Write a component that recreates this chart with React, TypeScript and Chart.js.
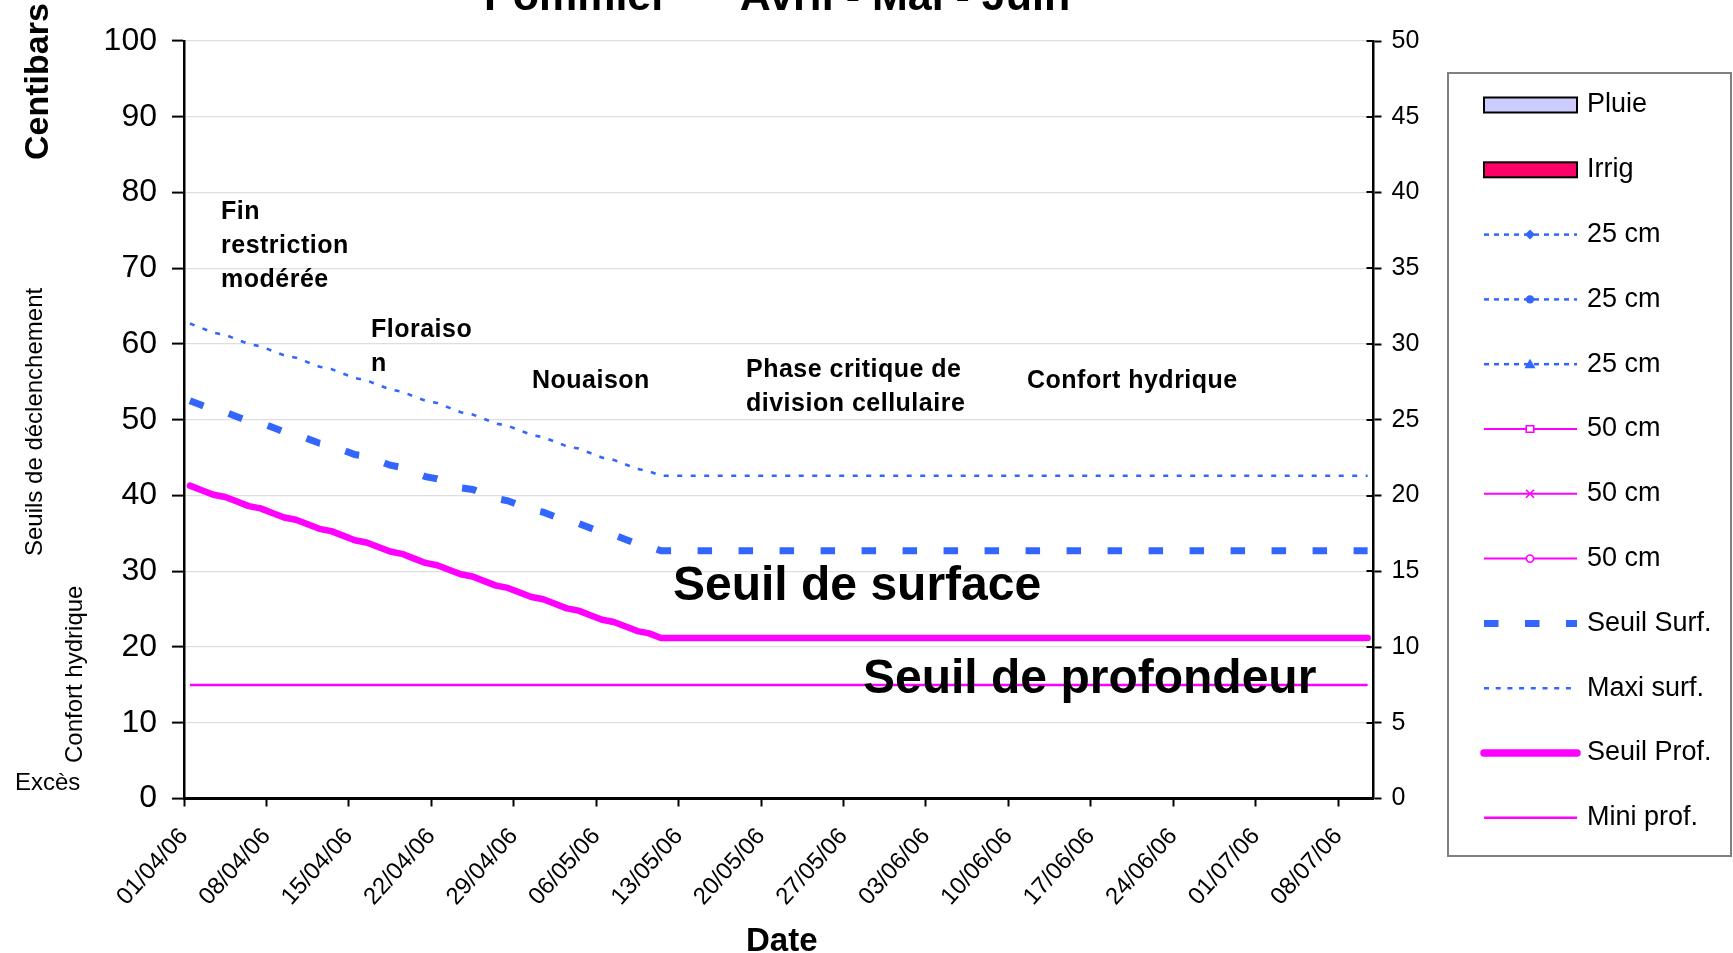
import { useEffect, useRef } from "react";
import { Chart, registerables } from "chart.js";

Chart.register(...registerables);

const FONT = "'Liberation Sans', Arial, Helvetica, sans-serif";
const BLUE = "#3366ff";
const MAGENTA = "#ff00ff";

// 101 daily categories (01/04/06 .. 10/07/06)
const dates = [
  "01/04/06", "02/04/06", "03/04/06", "04/04/06", "05/04/06", "06/04/06", "07/04/06", "08/04/06", "09/04/06", "10/04/06",
  "11/04/06", "12/04/06", "13/04/06", "14/04/06", "15/04/06", "16/04/06", "17/04/06", "18/04/06", "19/04/06", "20/04/06",
  "21/04/06", "22/04/06", "23/04/06", "24/04/06", "25/04/06", "26/04/06", "27/04/06", "28/04/06", "29/04/06", "30/04/06",
  "01/05/06", "02/05/06", "03/05/06", "04/05/06", "05/05/06", "06/05/06", "07/05/06", "08/05/06", "09/05/06", "10/05/06",
  "11/05/06", "12/05/06", "13/05/06", "14/05/06", "15/05/06", "16/05/06", "17/05/06", "18/05/06", "19/05/06", "20/05/06",
  "21/05/06", "22/05/06", "23/05/06", "24/05/06", "25/05/06", "26/05/06", "27/05/06", "28/05/06", "29/05/06", "30/05/06",
  "31/05/06", "01/06/06", "02/06/06", "03/06/06", "04/06/06", "05/06/06", "06/06/06", "07/06/06", "08/06/06", "09/06/06",
  "10/06/06", "11/06/06", "12/06/06", "13/06/06", "14/06/06", "15/06/06", "16/06/06", "17/06/06", "18/06/06", "19/06/06",
  "20/06/06", "21/06/06", "22/06/06", "23/06/06", "24/06/06", "25/06/06", "26/06/06", "27/06/06", "28/06/06", "29/06/06",
  "30/06/06", "01/07/06", "02/07/06", "03/07/06", "04/07/06", "05/07/06", "06/07/06", "07/07/06", "08/07/06", "09/07/06",
  "10/07/06",
];

const xTickLabels = [
  "01/04/06", "08/04/06", "15/04/06", "22/04/06", "29/04/06", "06/05/06", "13/05/06", "20/05/06",
  "27/05/06", "03/06/06", "10/06/06", "17/06/06", "24/06/06", "01/07/06", "08/07/06",
];

const seuilSurf = [
  52.5, 51.9, 51.3, 51.0, 50.4, 49.8, 49.6, 49.0, 48.4, 48.1,
  47.5, 46.9, 46.6, 46.0, 45.4, 45.2, 44.6, 44.0, 43.7, 43.1,
  42.5, 42.2, 41.6, 41.0, 40.8, 40.2, 39.6, 39.3, 38.7, 38.1,
  37.8, 37.2, 36.6, 36.3, 35.7, 35.1, 34.8, 34.2, 33.6, 33.3,
  32.7, 32.7, 32.7, 32.7, 32.7, 32.7, 32.7, 32.7, 32.7, 32.7,
  32.7, 32.7, 32.7, 32.7, 32.7, 32.7, 32.7, 32.7, 32.7, 32.7,
  32.7, 32.7, 32.7, 32.7, 32.7, 32.7, 32.7, 32.7, 32.7, 32.7,
  32.7, 32.7, 32.7, 32.7, 32.7, 32.7, 32.7, 32.7, 32.7, 32.7,
  32.7, 32.7, 32.7, 32.7, 32.7, 32.7, 32.7, 32.7, 32.7, 32.7,
  32.7, 32.7, 32.7, 32.7, 32.7, 32.7, 32.7, 32.7, 32.7, 32.7,
  32.7,
];

const maxiSurf = [
  62.7, 62.1, 61.5, 61.2, 60.6, 60.0, 59.7, 59.1, 58.5, 58.2,
  57.6, 57.0, 56.7, 56.1, 55.5, 55.2, 54.6, 54.0, 53.7, 53.1,
  52.5, 52.2, 51.6, 51.0, 50.7, 50.1, 49.5, 49.2, 48.6, 48.0,
  47.7, 47.1, 46.5, 46.2, 45.6, 45.0, 44.7, 44.1, 43.5, 43.2,
  42.6, 42.6, 42.6, 42.6, 42.6, 42.6, 42.6, 42.6, 42.6, 42.6,
  42.6, 42.6, 42.6, 42.6, 42.6, 42.6, 42.6, 42.6, 42.6, 42.6,
  42.6, 42.6, 42.6, 42.6, 42.6, 42.6, 42.6, 42.6, 42.6, 42.6,
  42.6, 42.6, 42.6, 42.6, 42.6, 42.6, 42.6, 42.6, 42.6, 42.6,
  42.6, 42.6, 42.6, 42.6, 42.6, 42.6, 42.6, 42.6, 42.6, 42.6,
  42.6, 42.6, 42.6, 42.6, 42.6, 42.6, 42.6, 42.6, 42.6, 42.6,
  42.6,
];

const seuilProf = [
  41.3, 40.7, 40.1, 39.8, 39.2, 38.6, 38.3, 37.7, 37.1, 36.8,
  36.2, 35.6, 35.3, 34.7, 34.1, 33.8, 33.2, 32.6, 32.3, 31.7,
  31.1, 30.8, 30.2, 29.6, 29.3, 28.7, 28.1, 27.8, 27.2, 26.6,
  26.3, 25.7, 25.1, 24.8, 24.2, 23.6, 23.3, 22.7, 22.1, 21.8,
  21.2, 21.2, 21.2, 21.2, 21.2, 21.2, 21.2, 21.2, 21.2, 21.2,
  21.2, 21.2, 21.2, 21.2, 21.2, 21.2, 21.2, 21.2, 21.2, 21.2,
  21.2, 21.2, 21.2, 21.2, 21.2, 21.2, 21.2, 21.2, 21.2, 21.2,
  21.2, 21.2, 21.2, 21.2, 21.2, 21.2, 21.2, 21.2, 21.2, 21.2,
  21.2, 21.2, 21.2, 21.2, 21.2, 21.2, 21.2, 21.2, 21.2, 21.2,
  21.2, 21.2, 21.2, 21.2, 21.2, 21.2, 21.2, 21.2, 21.2, 21.2,
  21.2,
];

const miniProf = [
  15, 15, 15, 15, 15, 15, 15, 15, 15, 15,
  15, 15, 15, 15, 15, 15, 15, 15, 15, 15,
  15, 15, 15, 15, 15, 15, 15, 15, 15, 15,
  15, 15, 15, 15, 15, 15, 15, 15, 15, 15,
  15, 15, 15, 15, 15, 15, 15, 15, 15, 15,
  15, 15, 15, 15, 15, 15, 15, 15, 15, 15,
  15, 15, 15, 15, 15, 15, 15, 15, 15, 15,
  15, 15, 15, 15, 15, 15, 15, 15, 15, 15,
  15, 15, 15, 15, 15, 15, 15, 15, 15, 15,
  15, 15, 15, 15, 15, 15, 15, 15, 15, 15,
  15,
];

// Series that carry no values in this period
const pluie: number[] = [];
const irrig: number[] = [];
const sonde25a: number[] = [];
const sonde25b: number[] = [];
const sonde25c: number[] = [];
const sonde50a: number[] = [];
const sonde50b: number[] = [];
const sonde50c: number[] = [];

const leftTicks = [0, 10, 20, 30, 40, 50, 60, 70, 80, 90, 100];
const rightTicks = [0, 5, 10, 15, 20, 25, 30, 35, 40, 45, 50];

const title = "Pommier      Avril - Mai - Juin";
const phaseLabels = [
  { lines: ["Fin", "restriction", "modérée"], x: 221, y: 219 },
  { lines: ["Floraiso", "n"], x: 371, y: 337 },
  { lines: ["Nouaison"], x: 532, y: 388 },
  { lines: ["Phase critique de", "division cellulaire"], x: 746, y: 377 },
  { lines: ["Confort hydrique"], x: 1027, y: 388 },
];

function pts(vals: number[]) {
  return vals.map((v, i) => ({ x: dates.indexOf(dates[i]) + 0.5, y: v }));
}

function drawMarker(ctx: CanvasRenderingContext2D, kind: string, x: number, y: number, color: string) {
  ctx.save();
  ctx.fillStyle = color;
  ctx.strokeStyle = color;
  ctx.lineWidth = 1.6;
  ctx.setLineDash([]);
  ctx.beginPath();
  if (kind === "diamond") {
    ctx.moveTo(x, y - 5);
    ctx.lineTo(x + 5, y);
    ctx.lineTo(x, y + 5);
    ctx.lineTo(x - 5, y);
    ctx.closePath();
    ctx.fill();
  } else if (kind === "dot") {
    ctx.arc(x, y, 4.2, 0, Math.PI * 2);
    ctx.fill();
  } else if (kind === "triangle") {
    ctx.moveTo(x, y - 5.5);
    ctx.lineTo(x + 5.5, y + 4);
    ctx.lineTo(x - 5.5, y + 4);
    ctx.closePath();
    ctx.fill();
  } else if (kind === "square") {
    ctx.rect(x - 3.8, y - 3.3, 7.6, 6.6);
    ctx.fillStyle = "#fff";
    ctx.fill();
    ctx.stroke();
  } else if (kind === "cross") {
    ctx.moveTo(x - 4, y - 4);
    ctx.lineTo(x + 4, y + 4);
    ctx.moveTo(x + 4, y - 4);
    ctx.lineTo(x - 4, y + 4);
    ctx.stroke();
  } else if (kind === "ring") {
    ctx.arc(x, y, 3.6, 0, Math.PI * 2);
    ctx.fillStyle = "#fff";
    ctx.fill();
    ctx.stroke();
  }
  ctx.restore();
}

const overlayPlugin = {
  id: "overlay",
  afterDraw(chart: any) {
    const ctx: CanvasRenderingContext2D = chart.ctx;
    const area = chart.chartArea;
    ctx.save();

    // inward half of right-axis cross ticks
    const y2 = chart.scales.y2;
    ctx.strokeStyle = "#000";
    ctx.lineWidth = 2;
    y2.ticks.forEach((t: any) => {
      const py = Math.round(y2.getPixelForValue(t.value));
      ctx.beginPath();
      ctx.moveTo(area.right - 7, py);
      ctx.lineTo(area.right, py);
      ctx.stroke();
    });

    ctx.fillStyle = "#000";
    ctx.textAlign = "left";
    ctx.textBaseline = "alphabetic";

    // title (partially cut at the top)
    ctx.font = `bold 43px ${FONT}`;
    ctx.fillText(title, 484, 10);

    // phase labels
    ctx.font = `bold 25px ${FONT}`;
    (ctx as any).letterSpacing = "0.5px";
    phaseLabels.forEach((p) => {
      p.lines.forEach((line, k) => ctx.fillText(line, p.x, p.y + k * 34));
    });
    (ctx as any).letterSpacing = "0px";

    // big threshold labels
    ctx.font = `bold 48px ${FONT}`;
    ctx.fillText("Seuil de surface", 673, 600);
    ctx.fillText("Seuil de profondeur", 863, 693);

    // x axis title
    ctx.font = `bold 33px ${FONT}`;
    ctx.fillText("Date", 746, 951);

    // left side texts
    ctx.font = `24px ${FONT}`;
    ctx.fillText("Excès", 15, 790);

    const rot = (text: string, font: string, x: number, y: number) => {
      ctx.save();
      ctx.translate(x, y);
      ctx.rotate(-Math.PI / 2);
      ctx.font = font;
      ctx.fillText(text, 0, 0);
      ctx.restore();
    };
    rot("Centibars", `bold 34px ${FONT}`, 48, 160);
    rot("Seuils de déclenchement", `24px ${FONT}`, 41.5, 556);
    rot("Confort hydrique", `24px ${FONT}`, 82, 763);

    // legend
    ctx.strokeStyle = "#808080";
    ctx.lineWidth = 2;
    ctx.strokeRect(1448, 73, 283, 783);
    const x0 = 1484;
    const x1 = 1577;
    chart.data.datasets.forEach((ds: any, i: number) => {
      const cy = 105 + i * 64.8;
      if (ds.type === "bar") {
        ctx.fillStyle = ds.backgroundColor;
        ctx.fillRect(x0, cy - 7.5, x1 - x0, 15);
        ctx.strokeStyle = "#000";
        ctx.lineWidth = 2;
        ctx.strokeRect(x0, cy - 7.5, x1 - x0, 15);
      } else {
        ctx.strokeStyle = ds.borderColor;
        ctx.lineWidth = ds.legendWidth ?? ds.borderWidth;
        ctx.setLineDash(ds.legendDash ?? ds.borderDash ?? []);
        ctx.lineCap = ds.borderCapStyle ?? "butt";
        ctx.beginPath();
        ctx.moveTo(x0, cy);
        ctx.lineTo(x1, cy);
        ctx.stroke();
        ctx.setLineDash([]);
        ctx.lineCap = "butt";
        if (ds.legendMarker) drawMarker(ctx, ds.legendMarker, 1530, cy, ds.borderColor);
      }
      ctx.fillStyle = "#000";
      ctx.font = `27px ${FONT}`;
      ctx.textBaseline = "middle";
      ctx.fillText(ds.label, 1587, cy);
      ctx.textBaseline = "alphabetic";
    });

    ctx.restore();
  },
};

export default function App() {
  const ref = useRef<HTMLCanvasElement | null>(null);

  useEffect(() => {
    if (!ref.current) return;
    const probe = (vals: number[], label: string, marker: string, color: string, dashed: boolean) => ({
      type: "line" as const,
      label,
      data: pts(vals),
      borderColor: color,
      borderWidth: dashed ? 2.5 : 2,
      borderDash: dashed ? [5, 5] : [],
      pointRadius: 0,
      legendMarker: marker,
      yAxisID: "y",
    });
    const chart = new Chart(ref.current, {
      type: "line",
      data: {
        datasets: [
          { type: "bar", label: "Pluie", data: pts(pluie), backgroundColor: "#ccccff", borderColor: "#000", borderWidth: 1, yAxisID: "y2" } as any,
          { type: "bar", label: "Irrig", data: pts(irrig), backgroundColor: "#ff0066", borderColor: "#000", borderWidth: 1, yAxisID: "y2" } as any,
          probe(sonde25a, "25 cm", "diamond", BLUE, true),
          probe(sonde25b, "25 cm", "dot", BLUE, true),
          probe(sonde25c, "25 cm", "triangle", BLUE, true),
          probe(sonde50a, "50 cm", "square", MAGENTA, false),
          probe(sonde50b, "50 cm", "cross", MAGENTA, false),
          probe(sonde50c, "50 cm", "ring", MAGENTA, false),
          {
            type: "line", label: "Seuil Surf.", data: pts(seuilSurf), borderColor: BLUE, borderWidth: 7,
            borderDash: [14.5, 26.5], borderCapStyle: "butt", pointRadius: 0, yAxisID: "y",
          } as any,
          {
            type: "line", label: "Maxi surf.", data: pts(maxiSurf), borderColor: BLUE, borderWidth: 2.6,
            borderDash: [5, 8.5], legendDash: [5, 6.7], pointRadius: 0, yAxisID: "y",
          } as any,
          {
            type: "line", label: "Seuil Prof.", data: pts(seuilProf), borderColor: MAGENTA, borderWidth: 6.5,
            legendWidth: 7.5, borderCapStyle: "round", borderJoinStyle: "round", pointRadius: 0, yAxisID: "y",
          } as any,
          {
            type: "line", label: "Mini prof.", data: pts(miniProf), borderColor: MAGENTA, borderWidth: 2.5,
            pointRadius: 0, yAxisID: "y",
          } as any,
        ],
      },
      options: {
        animation: false,
        responsive: false,
        devicePixelRatio: 1,
        layout: { padding: { top: 41, left: 0, right: 299.5, bottom: 4.5 } },
        plugins: { legend: { display: false }, tooltip: { enabled: false }, title: { display: false } },
        elements: { line: { tension: 0 }, point: { radius: 0 } },
        scales: {
          x: {
            type: "linear",
            offset: false,
            min: 0,
            max: dates.length,
            afterBuildTicks: (s: any) => {
              s.ticks = xTickLabels.map((lbl) => ({ value: dates.indexOf(lbl) }));
            },
            afterFit: (s: any) => {
              s.height = 150;
            },
            grid: { offset: false, drawOnChartArea: false, drawTicks: true, tickLength: 8, tickColor: "#000", tickWidth: 2 },
            border: { color: "#000", width: 3 },
            ticks: {
              autoSkip: false,
              maxRotation: 48,
              minRotation: 48,
              padding: 16,
              color: "#000",
              font: { family: FONT, size: 24 },
              callback: (v: any) => dates[Math.round(Number(v))] ?? "",
            },
          },
          y: {
            type: "linear",
            position: "left",
            min: 0,
            max: 100,
            afterBuildTicks: (s: any) => {
              s.ticks = leftTicks.map((v) => ({ value: v }));
            },
            afterFit: (s: any) => {
              s.width = 184;
            },
            grid: { color: "#dedede", lineWidth: 1.2, tickLength: 12, tickColor: "#000", tickWidth: 2 },
            border: { color: "#000", width: 2.5 },
            ticks: { padding: 15, color: "#000", font: { family: FONT, size: 32 } },
          },
          y2: {
            type: "linear",
            position: "right",
            min: 0,
            max: 50,
            afterBuildTicks: (s: any) => {
              s.ticks = rightTicks.map((v) => ({ value: v }));
            },
            afterFit: (s: any) => {
              s.width = 60;
            },
            grid: { drawOnChartArea: false, tickLength: 8, tickColor: "#000", tickWidth: 2 },
            border: { color: "#000", width: 2.5 },
            ticks: { padding: 10, color: "#000", font: { family: FONT, size: 25 } },
          },
        },
      } as any,
      plugins: [overlayPlugin],
    });
    return () => chart.destroy();
  }, []);

  return (
    <div style={{ position: "absolute", left: 0, top: 0, width: 1733, height: 953, background: "#fff" }}>
      <canvas ref={ref} width={1733} height={953} style={{ display: "block", width: 1733, height: 953 }} />
    </div>
  );
}
